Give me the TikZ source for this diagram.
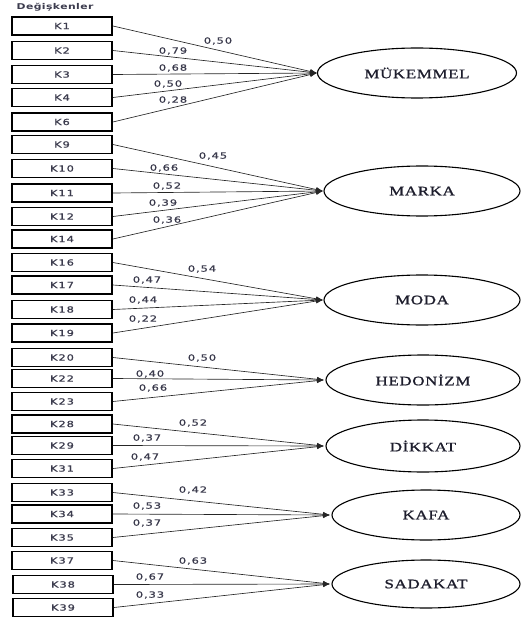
\documentclass[tikz,border=0pt]{standalone}
\usepackage{fontspec}
\usepackage{graphicx}
\usetikzlibrary{shapes.geometric,arrows.meta}
\newfontfamily\elfont[LetterSpace=4,FakeBold=1]{Liberation Serif}
\newfontfamily\lbfont[LetterSpace=8,FakeBold=0.7]{DejaVu Sans}
\newfontfamily\hdfont[LetterSpace=4]{DejaVu Sans Bold}
\newcommand{\wide}[1]{\scalebox{1.35}[1]{#1}}
\newcommand{\ewide}[1]{\scalebox{1.3}[1]{#1}}
\definecolor{txtc}{RGB}{60,60,78}
\definecolor{elc}{RGB}{30,30,45}
\tikzset{
  varbox/.style={draw=black, line width=1.8pt, fill=white, minimum width=100pt, minimum height=18pt, inner sep=0pt, font=\lbfont\fontsize{8.5}{9}\selectfont, text=txtc},
  latent/.style={ellipse, draw=black, line width=1.1pt, inner sep=0pt, font=\elfont\fontsize{13}{14}\selectfont, text=elc},
  load/.style={draw=black!85, line width=0.65pt, -{Latex[length=7pt,width=5pt]}},
  wt/.style={font=\lbfont\fontsize{8.5}{9}\selectfont, text=txtc, inner sep=0pt}
}
\begin{document}
\begin{tikzpicture}[x=1pt,y=-1pt]
\useasboundingbox (0,0) rectangle (520,620);
\node[font=\hdfont\fontsize{8}{9}\selectfont, text=txtc, inner sep=0pt] (hdr) at (55,7) {\wide{Değişkenler}};
% boxes
\node[varbox] (k1) at (62,26) {\wide{K1}};
\node[varbox] (k2) at (62,50.5) {\wide{K2}};
\node[varbox] (k3) at (62,74.5) {\wide{K3}};
\node[varbox] (k4) at (62,97.5) {\wide{K4}};
\node[varbox] (k6) at (62,122) {\wide{K6}};
\node[varbox] (k9) at (62,144.5) {\wide{K9}};
\node[varbox] (k10) at (62,168.5) {\wide{K10}};
\node[varbox] (k11) at (62,193) {\wide{K11}};
\node[varbox] (k12) at (62,216.5) {\wide{K12}};
\node[varbox] (k14) at (62,239) {\wide{K14}};
\node[varbox] (k16) at (62,262.5) {\wide{K16}};
\node[varbox] (k17) at (62,285) {\wide{K17}};
\node[varbox] (k18) at (62,309.5) {\wide{K18}};
\node[varbox] (k19) at (62,333) {\wide{K19}};
\node[varbox] (k20) at (62,357.5) {\wide{K20}};
\node[varbox] (k22) at (62,378.5) {\wide{K22}};
\node[varbox] (k23) at (62,401.5) {\wide{K23}};
\node[varbox] (k28) at (62,424) {\wide{K28}};
\node[varbox] (k29) at (62,445.5) {\wide{K29}};
\node[varbox] (k31) at (62,468.5) {\wide{K31}};
\node[varbox] (k33) at (62,492.5) {\wide{K33}};
\node[varbox] (k34) at (62,514) {\wide{K34}};
\node[varbox] (k35) at (62,537.5) {\wide{K35}};
\node[varbox] (k37) at (62,560.5) {\wide{K37}};
\node[varbox] (k38) at (63,584.5) {\wide{K38}};
\node[varbox] (k39) at (63,607.5) {\wide{K39}};
% latent variables
\node[latent, minimum width=199pt, minimum height=50pt] (muk) at (417,73) {\ewide{MÜKEMMEL}};
\node[latent, minimum width=196pt, minimum height=50pt] (mar) at (422,191) {\ewide{MARKA}};
\node[latent, minimum width=196pt, minimum height=50pt] (mod) at (422,300) {\ewide{MODA}};
\node[latent, minimum width=194pt, minimum height=50pt] (hed) at (423,380) {\ewide{HEDONİZM}};
\node[latent, minimum width=194pt, minimum height=52pt] (dik) at (423,446) {\ewide{DİKKAT}};
\node[latent, minimum width=188pt, minimum height=50pt] (kaf) at (426,515) {\ewide{KAFA}};
\node[latent, minimum width=188pt, minimum height=48pt] (sad) at (426,584) {\ewide{SADAKAT}};
% arrow tips
\coordinate (tmuk) at (317,73);
\coordinate (tmar) at (323,191);
\coordinate (tmod) at (323,300);
\coordinate (thed) at (324,380);
\coordinate (tdik) at (324,446);
\coordinate (tkaf) at (330,515);
\coordinate (tsad) at (330,584);
% loadings
\foreach \k in {k1,k2,k3,k4,k6}{\draw[load] (\k.east) -- (tmuk);}
\foreach \k in {k9,k10,k11,k12,k14}{\draw[load] (\k.east) -- (tmar);}
\foreach \k in {k16,k17,k18,k19}{\draw[load] (\k.east) -- (tmod);}
\foreach \k in {k20,k22,k23}{\draw[load] (\k.east) -- (thed);}
\foreach \k in {k28,k29,k31}{\draw[load] (\k.east) -- (tdik);}
\foreach \k in {k33,k34,k35}{\draw[load] (\k.east) -- (tkaf);}
\foreach \k in {k37,k38,k39}{\draw[load] (\k.east) -- (tsad);}
% weights
\node[wt] (w1) at (218,41) {\wide{0,50}};
\node[wt] (w2) at (173,51) {\wide{0,79}};
\node[wt] (w3) at (173,68) {\wide{0,68}};
\node[wt] (w4) at (168,84) {\wide{0,50}};
\node[wt] (w6) at (173,100) {\wide{0,28}};
\node[wt] (w9) at (213,156) {\wide{0,45}};
\node[wt] (w10) at (164,168) {\wide{0,66}};
\node[wt] (w11) at (167,186) {\wide{0,52}};
\node[wt] (w12) at (163,203) {\wide{0,39}};
\node[wt] (w14) at (167,220) {\wide{0,36}};
\node[wt] (w16) at (202,269) {\wide{0,54}};
\node[wt] (w17) at (147,280) {\wide{0,47}};
\node[wt] (w18) at (143,300) {\wide{0,44}};
\node[wt] (w19) at (143,319) {\wide{0,22}};
\node[wt] (w20) at (202,358) {\wide{0,50}};
\node[wt] (w22) at (150,374) {\wide{0,40}};
\node[wt] (w23) at (153,388) {\wide{0,66}};
\node[wt] (w28) at (193,423) {\wide{0,52}};
\node[wt] (w29) at (147,438) {\wide{0,37}};
\node[wt] (w31) at (145,457) {\wide{0,47}};
\node[wt] (w33) at (193,490) {\wide{0,42}};
\node[wt] (w34) at (147,506) {\wide{0,53}};
\node[wt] (w35) at (147,523) {\wide{0,37}};
\node[wt] (w37) at (193,561) {\wide{0,63}};
\node[wt] (w38) at (150,577) {\wide{0,67}};
\node[wt] (w39) at (150,595) {\wide{0,33}};
\end{tikzpicture}
\end{document}
